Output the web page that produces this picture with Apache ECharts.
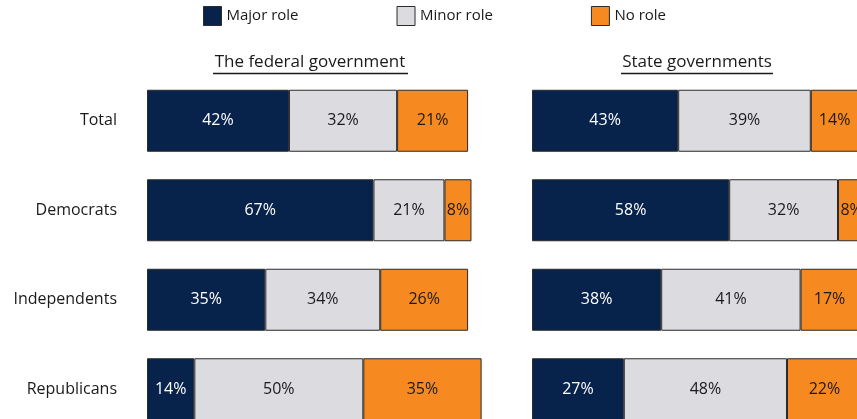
<!DOCTYPE html>
<html>
<head>
<meta charset="utf-8">
<script src="https://cdn.jsdelivr.net/npm/echarts@6/dist/echarts.min.js"></script>
<style>
  html, body { margin: 0; padding: 0; background: #fff; }
  #main { width: 857px; height: 419px; }
</style>
</head>
<body>
<div id="main"></div>
<script>
// categories top to bottom
var groups = ["Total", "Democrats", "Independents", "Republicans"];
var roles = ["Major role", "Minor role", "No role"];
var roleColors = ["#08234b", "#dcdbe0", "#f6891f"];

// federal government
var fedMajor = [42, 67, 35, 14];
var fedMinor = [32, 21, 34, 50];
var fedNone = [21, 8, 26, 35];

// state governments
var stateMajor = [43, 58, 38, 27];
var stateMinor = [39, 32, 41, 48];
var stateNone = [14, 8, 17, 22];

var FONT = "Open Sans";

var chart = echarts.init(document.getElementById("main"));

function makeSeries(name, data, axisIdx, colorIdx) {
  return {
    name: name,
    type: "bar",
    stack: "s" + axisIdx,
    xAxisIndex: axisIdx,
    yAxisIndex: axisIdx,
    barWidth: 62,
    data: data,
    itemStyle: {
      color: roleColors[colorIdx],
      borderColor: "#2b2b2b",
      borderWidth: 1
    },
    label: {
      show: true,
      position: "inside",
      formatter: "{c}%",
      fontFamily: FONT,
      fontSize: 16,
      color: colorIdx === 0 ? "#ffffff" : "#1a1a1a"
    },
    emphasis: { disabled: true },
    animation: false
  };
}

var option = {
  textStyle: { fontFamily: FONT },
  legend: {
    data: roles,
    top: 6,
    left: 203,
    padding: 0,
    itemWidth: 18,
    itemHeight: 19,
    itemGap: 98,
    icon: "rect",
    itemStyle: { borderColor: "#2b2b2b", borderWidth: 1 },
    textStyle: { fontFamily: FONT, fontSize: 15, color: "#1a1a1a" }
  },
  title: [
    {
      text: "The federal government",
      left: 310,
      top: 54,
      padding: 0,
      textAlign: "center",
      textStyle: { fontFamily: FONT, fontSize: 17, fontWeight: "normal", color: "#1a1a1a" }
    },
    {
      text: "State governments",
      left: 697,
      top: 54,
      padding: 0,
      textAlign: "center",
      textStyle: { fontFamily: FONT, fontSize: 17, fontWeight: "normal", color: "#1a1a1a" }
    }
  ],
  graphic: [
    { type: "line", shape: { x1: 213, y1: 73.5, x2: 408, y2: 73.5 }, style: { stroke: "#1a1a1a", lineWidth: 1.5 } },
    { type: "line", shape: { x1: 621, y1: 73.5, x2: 773, y2: 73.5 }, style: { stroke: "#1a1a1a", lineWidth: 1.5 } }
  ],
  grid: [
    { left: 147, right: 372, top: 76, bottom: -15, outerBoundsMode: "none", containLabel: false },
    { left: 532, right: -15, top: 76, bottom: -15, outerBoundsMode: "none", containLabel: false }
  ],
  xAxis: [
    { type: "value", gridIndex: 0, min: 0, max: 100, show: false },
    { type: "value", gridIndex: 1, min: 0, max: 100, show: false }
  ],
  yAxis: [
    {
      type: "category",
      gridIndex: 0,
      data: groups,
      inverse: true,
      axisLine: { show: false },
      axisTick: { show: false },
      axisLabel: { margin: 30, fontFamily: FONT, fontSize: 16, color: "#1a1a1a" }
    },
    {
      type: "category",
      gridIndex: 1,
      data: groups,
      inverse: true,
      axisLine: { show: false },
      axisTick: { show: false },
      axisLabel: { show: false }
    }
  ],
  series: [
    makeSeries(roles[0], fedMajor, 0, 0),
    makeSeries(roles[1], fedMinor, 0, 1),
    makeSeries(roles[2], fedNone, 0, 2),
    makeSeries(roles[0], stateMajor, 1, 0),
    makeSeries(roles[1], stateMinor, 1, 1),
    makeSeries(roles[2], stateNone, 1, 2)
  ],
  animation: false
};

chart.setOption(option);
</script>
</body>
</html>
